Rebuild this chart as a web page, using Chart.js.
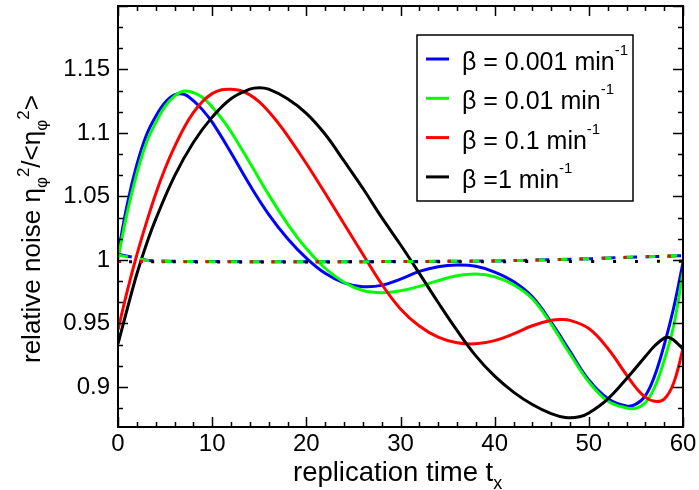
<!DOCTYPE html>
<html>
<head>
<meta charset="utf-8">
<script src="https://cdn.jsdelivr.net/npm/chart.js@4.4.0/dist/chart.umd.min.js"></script>
<style>
  html, body { margin: 0; padding: 0; background: #fff; }
  #wrap { width: 699px; height: 490px; }
</style>
</head>
<body>
<div id="wrap"><canvas id="chart" width="699" height="490"></canvas></div>
<script>
const FONT = '"Liberation Sans", Arial, Helvetica, sans-serif';

const legendLabels = ['β = 0.001 min', 'β = 0.01 min', 'β = 0.1 min', 'β =1 min'];
const colors = ['#0000ff', '#00ff00', '#ff0000', '#000000'];
const xTicks = [0, 10, 20, 30, 40, 50, 60];
const yTicks = [0.9, 0.95, 1, 1.05, 1.1, 1.15];

// solid curves
const tBlue = [0, 1, 2, 3, 4, 5, 6, 7, 8, 9, 10, 12, 14, 16, 18, 20, 22, 24, 26, 28, 30, 32, 34, 36, 38, 40, 42, 44, 46, 48, 50, 52, 54, 55, 56, 57, 58, 59, 60];
const vBlue = [1.005, 1.0445, 1.075, 1.098, 1.113, 1.124, 1.130, 1.1305, 1.1255, 1.118, 1.1085, 1.0845, 1.059, 1.036, 1.017, 1.0015, 0.9895, 0.982, 0.979, 0.980, 0.985, 0.991, 0.9947, 0.996, 0.995, 0.9905, 0.983, 0.971, 0.951, 0.928, 0.9055, 0.891, 0.885, 0.8865, 0.893, 0.909, 0.933, 0.962, 0.998];

const tGreen = [0, 1, 2, 3, 4, 5, 6, 7, 8, 9, 10, 11, 12, 14, 16, 18, 20, 22, 24, 26, 28, 30, 32, 34, 36, 38, 40, 42, 44, 46, 48, 50, 52, 54, 55, 56, 57, 58, 59, 60];
const vGreen = [1.001, 1.038, 1.068, 1.092, 1.108, 1.121, 1.129, 1.133, 1.1318, 1.128, 1.1205, 1.1115, 1.101, 1.0765, 1.0515, 1.0285, 1.009, 0.9935, 0.9825, 0.976, 0.9743, 0.9758, 0.9792, 0.9838, 0.9876, 0.989, 0.9868, 0.9805, 0.9695, 0.9495, 0.926, 0.904, 0.889, 0.8835, 0.8833, 0.8875, 0.900, 0.921, 0.948, 0.99];

const tRed = [0, 1, 2, 3, 4, 5, 6, 7, 8, 9, 10, 11, 12, 13, 14, 15, 16, 17, 18, 20, 22, 24, 26, 28, 30, 32, 34, 36, 38, 40, 42, 44, 46, 47, 48, 50, 52, 54, 55, 56, 57, 58, 59, 60];
const vRed = [0.945, 0.976, 1.004, 1.029, 1.052, 1.072, 1.089, 1.104, 1.116, 1.125, 1.131, 1.134, 1.1345, 1.1335, 1.130, 1.1245, 1.117, 1.108, 1.098, 1.076, 1.0525, 1.0285, 1.0045, 0.981, 0.9615, 0.948, 0.9392, 0.9348, 0.934, 0.9365, 0.9418, 0.9482, 0.9525, 0.9532, 0.9525, 0.946, 0.9305, 0.9095, 0.8995, 0.892, 0.8887, 0.8905, 0.903, 0.93];

const tBlack = [0, 1, 2, 3, 4, 6, 8, 10, 12, 14, 15, 16, 18, 20, 22, 24, 26, 28, 30, 32, 34, 36, 38, 40, 42, 44, 46, 47.5, 49, 50, 52, 54, 56, 57, 58, 58.5, 59, 60];
const vBlack = [0.934, 0.962, 0.989, 1.012, 1.032, 1.066, 1.0925, 1.1125, 1.127, 1.1345, 1.1357, 1.1345, 1.127, 1.1155, 1.099, 1.078, 1.0565, 1.0335, 1.012, 0.9895, 0.9665, 0.9445, 0.9245, 0.9085, 0.896, 0.8862, 0.879, 0.876, 0.8765, 0.8795, 0.8905, 0.9065, 0.924, 0.9325, 0.9385, 0.939, 0.937, 0.93];

// dashed / dotted curves near 1
const tBlueDash = [0, 1, 2, 3.5, 10, 20, 30, 40, 46, 51, 55.5, 58.5, 60];
const vBlueDash = [1.0045, 1.003, 1.0015, 0.9995, 0.9988, 0.9986, 0.9988, 0.9993, 1.0002, 1.0012, 1.0025, 1.003, 1.0035];
const tGreenDash = [0, 1, 2, 3.5, 10, 20, 30, 40, 46, 51, 55.5, 58.5, 60];
const vGreenDash = [1.004, 1.0025, 1.0012, 0.9993, 0.9987, 0.9986, 0.9988, 0.9993, 1.0002, 1.0012, 1.0025, 1.0032, 1.004];
const tRedDot = [0, 10, 20, 30, 40, 46, 51, 55.5, 60];
const vRedDot = [0.9988, 0.9986, 0.9986, 0.9988, 0.9993, 1.0002, 1.0012, 1.0025, 1.0035];
const tBlackDot = [0, 10, 20, 30, 40, 50, 60];
const vBlackDot = [0.9986, 0.9985, 0.9985, 0.9986, 0.9987, 0.9988, 0.999];

function pts(t, v) { return t.map((x, i) => ({ x: x, y: v[i] })); }

function solid(i, t, v) {
  return { data: pts(t, v), borderColor: colors[i], borderWidth: 3, pointRadius: 0,
    tension: 0.4, fill: false, order: 10 - i };
}
function dashed(i, t, v, dash, off) {
  return { data: pts(t, v), borderColor: colors[i], borderWidth: 3, pointRadius: 0,
    tension: 0.4, fill: false, borderDash: dash, borderDashOffset: off, order: 4 - i };
}

// draw text made of pieces with sub/superscripts
function drawPieces(ctx, pieces, x, y) {
  pieces.forEach(p => {
    ctx.font = p.size + 'px ' + FONT;
    ctx.fillText(p.text, x, y + (p.dy || 0));
    x += ctx.measureText(p.text).width;
  });
}

const decorations = {
  id: 'decorations',
  afterDraw(chart) {
    const { ctx, chartArea: a, scales: { x, y } } = chart;
    ctx.save();
    ctx.strokeStyle = '#000';
    ctx.fillStyle = '#000';
    // ticks on all four sides, pointing inward
    ctx.lineWidth = 1.5;
    ctx.beginPath();
    for (let t = 0; t <= 60; t += 2) {
      const px = Math.round(x.getPixelForValue(t)) + 0.5;
      const len = t % 10 === 0 ? 10 : 5;
      ctx.moveTo(px, a.bottom); ctx.lineTo(px, a.bottom - len);
      ctx.moveTo(px, a.top); ctx.lineTo(px, a.top + len);
    }
    for (let i = -1; i <= 18; i++) {
      const v = 0.9 + i * 0.05 / 3;
      if (v < y.min || v > y.max) continue;
      const py = Math.round(y.getPixelForValue(v)) + 0.5;
      const len = i % 3 === 0 ? 10 : 5;
      ctx.moveTo(a.left, py); ctx.lineTo(a.left + len, py);
      ctx.moveTo(a.right, py); ctx.lineTo(a.right - len, py);
    }
    ctx.stroke();
    // frame
    ctx.lineWidth = 2;
    ctx.strokeRect(a.left, a.top, a.right - a.left, a.bottom - a.top);

    // legend
    const lx = 417, ly = 35, lw = 216, lh = 166;
    ctx.fillStyle = '#fff';
    ctx.fillRect(lx, ly, lw, lh);
    ctx.lineWidth = 1.5;
    ctx.strokeRect(lx, ly, lw, lh);
    ctx.textBaseline = 'alphabetic';
    ctx.textAlign = 'left';
    legendLabels.forEach((lab, i) => {
      const cy = 59 + i * 39.3;
      ctx.strokeStyle = colors[i];
      ctx.lineWidth = 3;
      ctx.beginPath(); ctx.moveTo(426, cy); ctx.lineTo(449, cy); ctx.stroke();
      ctx.fillStyle = '#000';
      drawPieces(ctx, [{ text: lab, size: 25 }, { text: '-1', size: 15, dy: -15 }], 462, cy + 11);
    });

    // axis titles
    ctx.fillStyle = '#000';
    drawPieces(ctx, [{ text: 'replication time t', size: 27.5 }, { text: 'x', size: 18, dy: 8 }], 293, 481);
    ctx.save();
    ctx.translate(40, 363);
    ctx.rotate(-Math.PI / 2);
    drawPieces(ctx, [
      { text: 'relative noise η', size: 26 },
      { text: 'φ', size: 17, dy: 7 },
      { text: '2', size: 17, dy: -11 },
      { text: '/<η', size: 26 },
      { text: 'φ', size: 17, dy: 7 },
      { text: '2', size: 17, dy: -11 },
      { text: '>', size: 26 }
    ], 0, 0);
    ctx.restore();
    ctx.restore();
  }
};

new Chart(document.getElementById('chart'), {
  type: 'line',
  data: {
    datasets: [
      solid(0, tBlue, vBlue),
      solid(1, tGreen, vGreen),
      solid(2, tRed, vRed),
      solid(3, tBlack, vBlack),
      dashed(0, tBlueDash, vBlueDash, [14, 8], 0),
      dashed(1, tGreenDash, vGreenDash, [10, 12], 0),
      dashed(2, tRedDot, vRedDot, [3, 19], 0),
      dashed(3, tBlackDot, vBlackDot, [3, 19], -11)
    ]
  },
  options: {
    responsive: false,
    animation: false,
    devicePixelRatio: 1,
    layout: { autoPadding: false, padding: { top: 6, right: 16, left: 0, bottom: 0 } },
    plugins: { legend: { display: false }, tooltip: { enabled: false } },
    scales: {
      x: {
        type: 'linear', min: 0, max: 60,
        afterBuildTicks: s => { s.ticks = xTicks.map(v => ({ value: v })); },
        ticks: { color: '#000', font: { family: FONT, size: 24 }, padding: 3, maxRotation: 0 },
        grid: { display: false, drawTicks: false },
        border: { display: false },
        afterFit: s => { s.height = 63; s.paddingLeft = 0; s.paddingRight = 0; }
      },
      y: {
        type: 'linear', min: 0.8685, max: 1.2,
        afterBuildTicks: s => { s.ticks = yTicks.map(v => ({ value: v })); },
        ticks: { color: '#000', font: { family: FONT, size: 24 }, padding: 8,
          callback: v => String(+v.toFixed(2)) },
        grid: { display: false, drawTicks: false },
        border: { display: false },
        afterFit: s => { s.width = 118; s.paddingTop = 0; s.paddingBottom = 0; }
      }
    }
  },
  plugins: [decorations]
});
</script>
</body>
</html>
